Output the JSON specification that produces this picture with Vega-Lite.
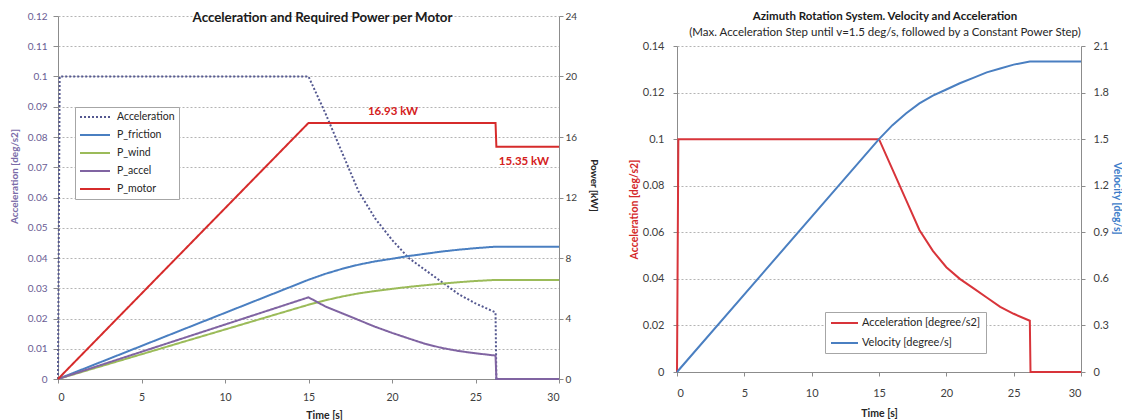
{
  "$schema": "https://vega.github.io/schema/vega-lite/v6.json",
  "background": "white",
  "padding": {"left": 9, "top": 10, "right": 0, "bottom": 0},
  "spacing": 30,
  "resolve": {"scale": {"color": "independent", "strokeDash": "independent"}, "legend": {"color": "independent", "strokeDash": "independent"}},
  "config": {
    "font": "Lato",
    "view": {"stroke": null},
    "axis": {
      "domainColor": "#8c8c8c",
      "tickColor": "#8c8c8c",
      "gridColor": "#b4b4b4",
      "gridDash": [2, 2],
      "labelColor": "#404040",
      "labelFont": "Lato",
      "titleFont": "Lato",
      "titleFontWeight": "bold",
      "tickSize": 4
    },
    "legend": {
      "symbolStrokeWidth": 2,
      "labelFont": "Lato",
      "labelColor": "#262626",
      "strokeColor": "#a6a6a6",
      "fillColor": "white",
      "padding": 5
    }
  },
  "datasets": {
    "leftAccel": [
      {"t": 0, "series": "Acceleration", "v": 0},
      {"t": 0.1, "series": "Acceleration", "v": 0.1},
      {"t": 15, "series": "Acceleration", "v": 0.1},
      {"t": 16, "series": "Acceleration", "v": 0.088},
      {"t": 17, "series": "Acceleration", "v": 0.075},
      {"t": 18, "series": "Acceleration", "v": 0.062},
      {"t": 19, "series": "Acceleration", "v": 0.053},
      {"t": 20, "series": "Acceleration", "v": 0.046},
      {"t": 21, "series": "Acceleration", "v": 0.04},
      {"t": 22, "series": "Acceleration", "v": 0.036},
      {"t": 23, "series": "Acceleration", "v": 0.032},
      {"t": 24, "series": "Acceleration", "v": 0.028},
      {"t": 25, "series": "Acceleration", "v": 0.025},
      {"t": 26.2, "series": "Acceleration", "v": 0.022},
      {"t": 26.25, "series": "Acceleration", "v": 0},
      {"t": 30, "series": "Acceleration", "v": 0}
    ],
    "leftPower": [
      {"t": 0, "series": "P_friction", "p": 0},
      {"t": 15, "series": "P_friction", "p": 6.56},
      {"t": 16, "series": "P_friction", "p": 6.95},
      {"t": 17, "series": "P_friction", "p": 7.28},
      {"t": 18, "series": "P_friction", "p": 7.56},
      {"t": 19, "series": "P_friction", "p": 7.78},
      {"t": 20, "series": "P_friction", "p": 7.95},
      {"t": 21, "series": "P_friction", "p": 8.13},
      {"t": 22, "series": "P_friction", "p": 8.28},
      {"t": 23, "series": "P_friction", "p": 8.43},
      {"t": 24, "series": "P_friction", "p": 8.55},
      {"t": 25, "series": "P_friction", "p": 8.65},
      {"t": 26.2, "series": "P_friction", "p": 8.75},
      {"t": 30, "series": "P_friction", "p": 8.75},
      {"t": 0, "series": "P_wind", "p": 0},
      {"t": 15, "series": "P_wind", "p": 4.91},
      {"t": 16, "series": "P_wind", "p": 5.2},
      {"t": 17, "series": "P_wind", "p": 5.45},
      {"t": 18, "series": "P_wind", "p": 5.66},
      {"t": 19, "series": "P_wind", "p": 5.82},
      {"t": 20, "series": "P_wind", "p": 5.96},
      {"t": 21, "series": "P_wind", "p": 6.09},
      {"t": 22, "series": "P_wind", "p": 6.2},
      {"t": 23, "series": "P_wind", "p": 6.31},
      {"t": 24, "series": "P_wind", "p": 6.4},
      {"t": 25, "series": "P_wind", "p": 6.48},
      {"t": 26.2, "series": "P_wind", "p": 6.55},
      {"t": 30, "series": "P_wind", "p": 6.55},
      {"t": 0, "series": "P_accel", "p": 0},
      {"t": 15, "series": "P_accel", "p": 5.4},
      {"t": 16, "series": "P_accel", "p": 4.8},
      {"t": 17, "series": "P_accel", "p": 4.35},
      {"t": 18, "series": "P_accel", "p": 3.9},
      {"t": 19, "series": "P_accel", "p": 3.45},
      {"t": 20, "series": "P_accel", "p": 3.05},
      {"t": 21, "series": "P_accel", "p": 2.68},
      {"t": 22, "series": "P_accel", "p": 2.32},
      {"t": 23, "series": "P_accel", "p": 2.05},
      {"t": 24, "series": "P_accel", "p": 1.85},
      {"t": 25, "series": "P_accel", "p": 1.7},
      {"t": 26.2, "series": "P_accel", "p": 1.55},
      {"t": 26.25, "series": "P_accel", "p": 0},
      {"t": 30, "series": "P_accel", "p": 0},
      {"t": 0, "series": "P_motor", "p": 0},
      {"t": 15, "series": "P_motor", "p": 16.93},
      {"t": 26.2, "series": "P_motor", "p": 16.93},
      {"t": 26.25, "series": "P_motor", "p": 15.35},
      {"t": 30, "series": "P_motor", "p": 15.35}
    ],
    "leftLabels": [
      {"t": 20.06, "p": 17.65, "label": "16.93 kW"},
      {"t": 27.9, "p": 14.35, "label": "15.35 kW"}
    ],
    "rightAccel": [
      {"t": 0, "series": "Acceleration [degree/s2]", "v": 0},
      {"t": 0.1, "series": "Acceleration [degree/s2]", "v": 0.1},
      {"t": 15, "series": "Acceleration [degree/s2]", "v": 0.1},
      {"t": 16, "series": "Acceleration [degree/s2]", "v": 0.087},
      {"t": 17, "series": "Acceleration [degree/s2]", "v": 0.074},
      {"t": 18, "series": "Acceleration [degree/s2]", "v": 0.061},
      {"t": 19, "series": "Acceleration [degree/s2]", "v": 0.052},
      {"t": 20, "series": "Acceleration [degree/s2]", "v": 0.045},
      {"t": 21, "series": "Acceleration [degree/s2]", "v": 0.04},
      {"t": 22, "series": "Acceleration [degree/s2]", "v": 0.036},
      {"t": 23, "series": "Acceleration [degree/s2]", "v": 0.032},
      {"t": 24, "series": "Acceleration [degree/s2]", "v": 0.028},
      {"t": 25, "series": "Acceleration [degree/s2]", "v": 0.025},
      {"t": 26.2, "series": "Acceleration [degree/s2]", "v": 0.022},
      {"t": 26.25, "series": "Acceleration [degree/s2]", "v": 0},
      {"t": 30, "series": "Acceleration [degree/s2]", "v": 0}
    ],
    "rightVel": [
      {"t": 0, "series": "Velocity [degree/s]", "w": 0},
      {"t": 15, "series": "Velocity [degree/s]", "w": 1.5},
      {"t": 16, "series": "Velocity [degree/s]", "w": 1.59},
      {"t": 17, "series": "Velocity [degree/s]", "w": 1.665},
      {"t": 18, "series": "Velocity [degree/s]", "w": 1.73},
      {"t": 19, "series": "Velocity [degree/s]", "w": 1.78},
      {"t": 20, "series": "Velocity [degree/s]", "w": 1.82},
      {"t": 21, "series": "Velocity [degree/s]", "w": 1.86},
      {"t": 22, "series": "Velocity [degree/s]", "w": 1.895},
      {"t": 23, "series": "Velocity [degree/s]", "w": 1.93},
      {"t": 24, "series": "Velocity [degree/s]", "w": 1.955},
      {"t": 25, "series": "Velocity [degree/s]", "w": 1.98},
      {"t": 26.2, "series": "Velocity [degree/s]", "w": 2.0},
      {"t": 30, "series": "Velocity [degree/s]", "w": 2.0}
    ]
  },
  "hconcat": [
    {
      "width": 501,
      "height": 363,
      "title": {
        "text": "Acceleration and Required Power per Motor",
        "fontSize": 13.3,
        "fontWeight": "bold",
        "color": "#1a1a1a",
        "anchor": "middle",
        "frame": "group",
        "offset": -13,
        "dx": 14
      },
      "resolve": {"scale": {"y": "independent"}},
      "layer": [
        {
          "data": {"name": "leftAccel"},
          "mark": {"type": "line", "strokeWidth": 2},
          "encoding": {
            "x": {
              "field": "t", "type": "quantitative",
              "scale": {"domain": [0, 30], "nice": false},
              "axis": {
                "values": [0, 5, 10, 15, 20, 25, 30],
                "title": "Time [s]", "titleFontSize": 10.5, "titleColor": "#262626",
                "titleX": 266, "titlePadding": 8,
                "labelFontSize": 10.5, "labelPadding": 9, "grid": false
              }
            },
            "y": {
              "field": "v", "type": "quantitative",
              "scale": {"domain": [0, 0.12], "nice": false},
              "axis": {
                "values": [0, 0.01, 0.02, 0.03, 0.04, 0.05, 0.06, 0.07, 0.08, 0.09, 0.1, 0.11, 0.12],
                "format": "~g",
                "title": "Acceleration [deg/s2]", "titleColor": "#7b6ca8", "titleFontSize": 10,
                "titlePadding": 8, "titleY": 160,
                "labelColor": "#6a5c93", "labelFontSize": 10, "labelPadding": 6, "tickSize": 5,
                "grid": true
              }
            },
            "color": {
              "field": "series", "type": "nominal",
              "scale": {
                "domain": ["Acceleration", "P_friction", "P_wind", "P_accel", "P_motor"],
                "range": ["#545890", "#4a7fc1", "#9bbb59", "#8064a2", "#d62b2b"]
              },
              "legend": {
                "title": null, "orient": "none", "legendX": 17, "legendY": 91,
                "symbolType": "M-1,0L5,0", "symbolSize": 100, "labelOffset": 26,
                "labelFontSize": 10.5, "rowPadding": 6, "padding": 4
              }
            },
            "strokeDash": {
              "field": "series", "type": "nominal",
              "scale": {
                "domain": ["Acceleration", "P_friction", "P_wind", "P_accel", "P_motor"],
                "range": [[2, 2], [1, 0], [1, 0], [1, 0], [1, 0]]
              },
              "legend": {
                "title": null, "orient": "none", "legendX": 17, "legendY": 91,
                "symbolType": "M-1,0L5,0", "symbolSize": 100, "labelOffset": 26,
                "labelFontSize": 10.5, "rowPadding": 6, "padding": 4
              }
            }
          }
        },
        {
          "layer": [
            {
              "data": {"name": "leftPower"},
              "mark": {"type": "line", "strokeWidth": 2},
              "encoding": {
                "x": {"field": "t", "type": "quantitative"},
                "y": {
                  "field": "p", "type": "quantitative",
                  "scale": {"domain": [0, 24], "nice": false},
                  "axis": {
                    "orient": "right",
                    "values": [0, 2, 4, 6, 8, 10, 12, 14, 16, 18, 20, 22, 24],
                    "title": "Power [kW]", "titleColor": "#262626", "titleFontSize": 10,
                    "titlePadding": 12, "titleY": 169,
                    "labelFontSize": 10, "labelPadding": 2, "grid": false
                  }
                },
                "color": {"field": "series", "type": "nominal"},
                "strokeDash": {"field": "series", "type": "nominal"}
              }
            },
            {
              "data": {"name": "leftLabels"},
              "mark": {"type": "text", "font": "Lato", "fontSize": 11.5, "fontWeight": "bold", "color": "#d42020"},
              "encoding": {
                "x": {"field": "t", "type": "quantitative"},
                "y": {"field": "p", "type": "quantitative"},
                "text": {"field": "label"}
              }
            }
          ]
        }
      ]
    },
    {
      "width": 404,
      "height": 356,
      "title": {
        "text": "Azimuth Rotation System. Velocity and Acceleration",
        "subtitle": "(Max. Acceleration Step until v=1.5 deg/s, followed by a Constant Power Step)",
        "fontSize": 11.5,
        "fontWeight": "bold",
        "color": "#1a1a1a",
        "subtitleFontSize": 11.5,
        "subtitleColor": "#262626",
        "subtitlePadding": 4,
        "anchor": "middle",
        "frame": "group",
        "offset": -22,
        "dx": 6
      },
      "resolve": {"scale": {"y": "independent"}},
      "layer": [
        {
          "data": {"name": "rightAccel"},
          "mark": {"type": "line", "strokeWidth": 2},
          "encoding": {
            "x": {
              "field": "t", "type": "quantitative",
              "scale": {"domain": [0, 30], "nice": false},
              "axis": {
                "values": [0, 5, 10, 15, 20, 25, 30],
                "title": "Time [s]", "titleFontSize": 10.5, "titleColor": "#262626",
                "titlePadding": 10,
                "labelFontSize": 11, "labelPadding": 11, "grid": false
              }
            },
            "y": {
              "field": "v", "type": "quantitative",
              "scale": {"domain": [0, 0.14], "nice": false, "range": [356, 30]},
              "axis": {
                "values": [0, 0.02, 0.04, 0.06, 0.08, 0.1, 0.12, 0.14],
                "format": "~g",
                "title": "Acceleration [deg/s2]", "titleColor": "#d4282a", "titleFontSize": 10.5,
                "titlePadding": 3, "titleY": 193,
                "labelFontSize": 11, "labelPadding": 9,
                "grid": true
              }
            },
            "color": {
              "field": "series", "type": "nominal",
              "scale": {
                "domain": ["Acceleration [degree/s2]", "Velocity [degree/s]"],
                "range": ["#d8343a", "#4a7fc1"]
              },
              "legend": {
                "title": null, "orient": "none", "legendX": 148, "legendY": 296,
                "symbolType": "M-1,0L4.4,0", "symbolSize": 100, "labelOffset": 20,
                "labelFontSize": 11, "rowPadding": 9
              }
            }
          }
        },
        {
          "data": {"name": "rightVel"},
          "mark": {"type": "line", "strokeWidth": 2},
          "encoding": {
            "x": {"field": "t", "type": "quantitative"},
            "y": {
              "field": "w", "type": "quantitative",
              "scale": {"domain": [0, 2.1], "nice": false, "range": [356, 30]},
              "axis": {
                "orient": "right",
                "values": [0, 0.3, 0.6, 0.9, 1.2, 1.5, 1.8, 2.1],
                "format": "~g",
                "title": "Velocity [deg/s]", "titleColor": "#3d7cc9", "titleFontSize": 10.5,
                "titlePadding": 3, "titleY": 182,
                "labelFontSize": 11, "labelPadding": 8, "grid": false
              }
            },
            "color": {"field": "series", "type": "nominal"}
          }
        }
      ]
    }
  ]
}
